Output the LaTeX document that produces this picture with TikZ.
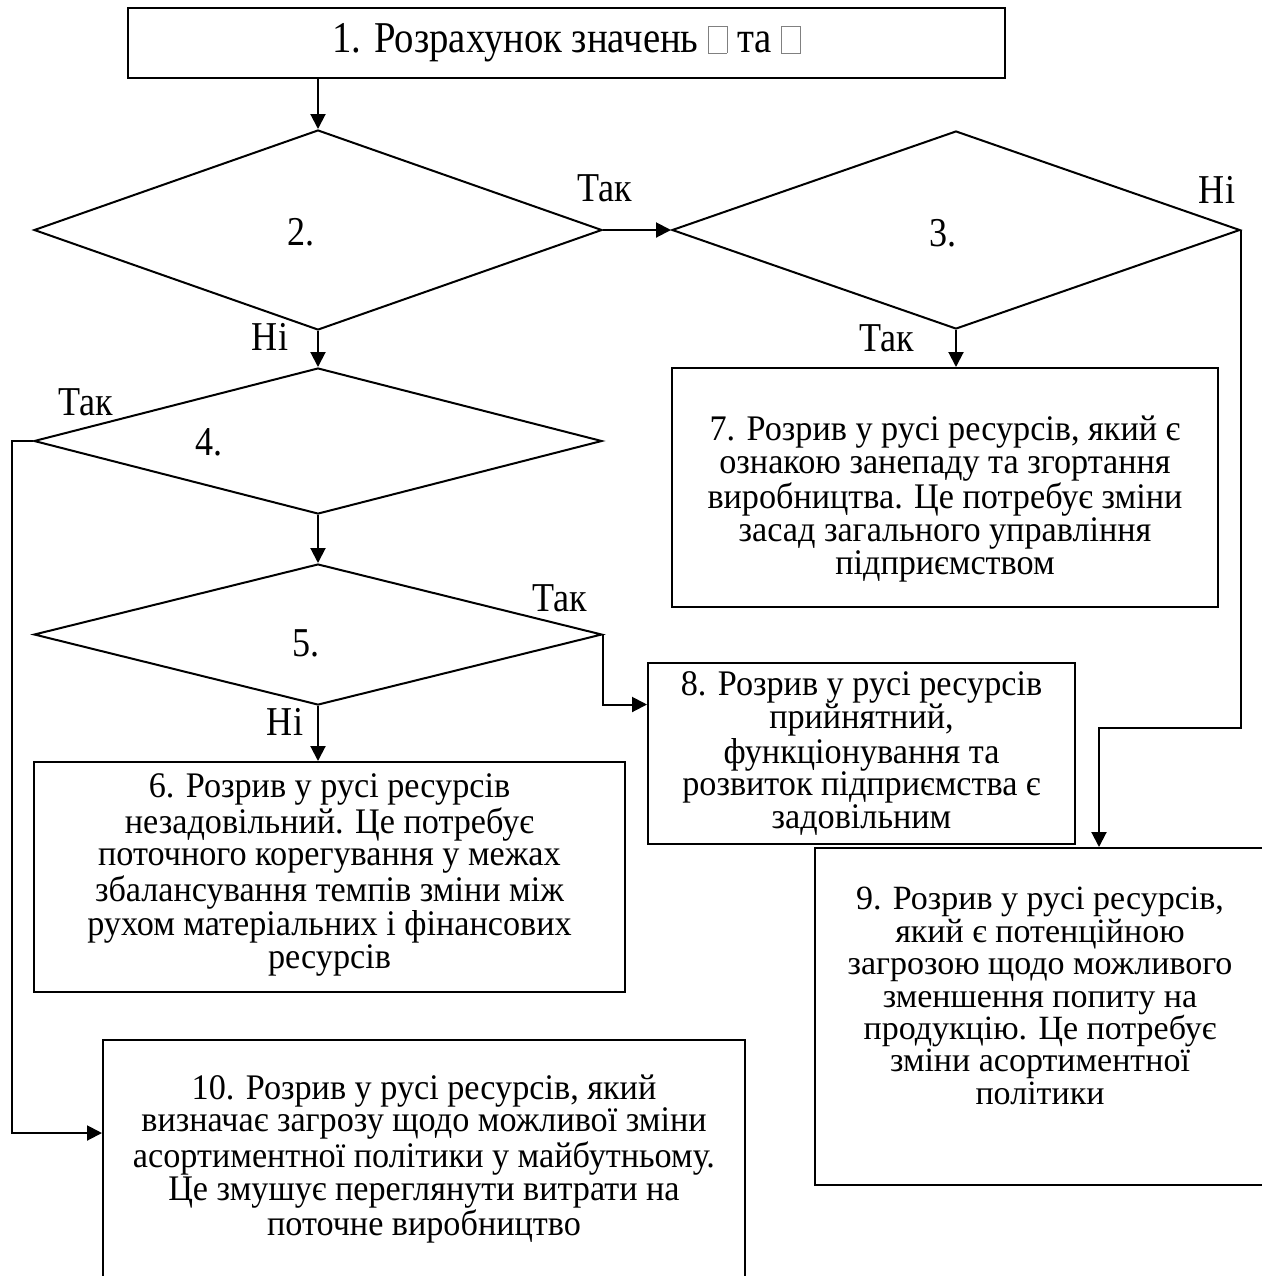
\documentclass[tikz,border=0pt]{standalone}
\usepackage{fontspec}
\setmainfont{Liberation Serif}
\newfontfamily\tallfont{Liberation Serif}[FakeStretch=0.95]
\newfontfamily\narrowfont{Liberation Serif}[FakeStretch=0.88]
\usetikzlibrary{shapes.geometric,arrows.meta}
\newcommand\boxfont{\tallfont\fontsize{18}{16.3}\selectfont}
\newcommand\plainfont{\fontsize{17}{16.2}\selectfont}
\newcommand\nosym{\textcolor{gray}{\setlength\fboxsep{0pt}\setlength\fboxrule{0.4pt}\fbox{\rule{0pt}{0.6em}\hspace{0.4em}}}}
\begin{document}
\begin{tikzpicture}
[x=0.5pt,y=-0.5pt,
  boxdecorate/.style={draw,line width=1pt,align=center,inner sep=0pt,font=\boxfont},
  diamonddecorate/.style={draw,diamond,line width=1pt,inner sep=0pt,minimum width=284pt},
  textdecorate/.style={align=center,inner sep=0pt,font=\boxfont},
  labeldecorate/.style={inner sep=0pt,font=\narrowfont\fontsize{20.5}{16}\selectfont},
  arrowdecorate/.style={line width=1pt,-{Triangle[length=7.5pt,width=7.5pt]}}]
\useasboundingbox (0,0) rectangle (1262,1276);
\clip (0,0) rectangle (1262,1276);
%% boxes
\node (b1) at (566.5,43) [boxdecorate,minimum width=438.5pt,minimum height=35pt,
  font=\narrowfont\fontsize{22}{16}\selectfont]
  {1. Розрахунок значень \nosym{} та \nosym};
\node (b6) at (329.5,877) [boxdecorate,minimum width=295.5pt,minimum height=115pt] {};
\node (t6) at (329.5,875) [textdecorate]
  {6. Розрив у русі ресурсів\\незадовільний. Це потребує\\поточного корегування у межах\\збалансування темпів зміни між\\рухом матеріальних і фінансових\\ресурсів};
\node (b7) at (945,487.5) [boxdecorate,minimum width=273pt,minimum height=119.5pt] {};
\node (t7) at (945,499) [textdecorate]
  {7. Розрив у русі ресурсів, який є\\ознакою занепаду та згортання\\виробництва. Це потребує зміни\\засад загального управління\\підприємством};
\node (b8) at (861.5,753.5) [boxdecorate,minimum width=213.5pt,minimum height=90.5pt]
  {8. Розрив у русі ресурсів\\прийнятний,\\функціонування та\\розвиток підприємства є\\задовільним};
\node (b9) at (1040,1016.5) [boxdecorate,minimum width=225pt,minimum height=168.5pt] {};
\node (t9) at (1040,996) [textdecorate,font=\plainfont]
  {9. Розрив у русі ресурсів,\\який є потенційною\\загрозою щодо можливого\\зменшення попиту на\\продукцію. Це потребує\\зміни асортиментної\\політики};
\node (b10) at (424,1165) [boxdecorate,minimum width=321pt,minimum height=125pt] {};
\node (t10) at (424,1159) [textdecorate]
  {10. Розрив у русі ресурсів, який\\визначає загрозу щодо можливої зміни\\асортиментної політики у майбутньому.\\Це змушує переглянути витрати на\\поточне виробництво};
%% decisions
\foreach \nodename/\x/\y/\h/\num/\nx/\ny in {d2/318/230/100/2./301/232,
  d3/956/230/99/3./943/233, d4/318/441/73/4./209/442, d5/318/634.5/70.5/5./306/643} {
  \node (\nodename) at (\x,\y) [diamonddecorate,minimum height=\h pt] {};
  \node (\nodename-num) at (\nx,\ny) [labeldecorate] {\num};
}
%% yes / no labels
\foreach \labelname/\x/\y/\answer in {l1/605/188/Так, l2/1217/190/Ні, l3/887/338/Так,
  l4/270/337/Ні, l5/86/402/Так, l6/560/598/Так, l7/285/722/Ні} {
  \node (\labelname) at (\x,\y) [labeldecorate] {\answer};
}
%% bends
\coordinate (k8) at ([yshift=-35pt]d5.east);
\coordinate (k9) at (1099,728);
\coordinate (k10) at (12,1133);
%% connectors
\foreach \startnode/\endnode/\via in {b1/d2/d2, d2/d4/d2, d4/d5/d4, d5/b6/d5, d3/b7/d3}
  \draw[arrowdecorate] (\startnode.south -| \via) -- (\endnode.north -| \via);
\draw[arrowdecorate] (d2.east) -- (d3.west);
\draw[arrowdecorate] (d3.east) |- (k9) -- (k9 |- b9.north);
\draw[arrowdecorate] (d5.east) -- (k8) -- (k8 -| b8.west);
\draw[arrowdecorate] (d4.west) -| (k10) -- (k10 -| b10.west);
\end{tikzpicture}
\end{document}
